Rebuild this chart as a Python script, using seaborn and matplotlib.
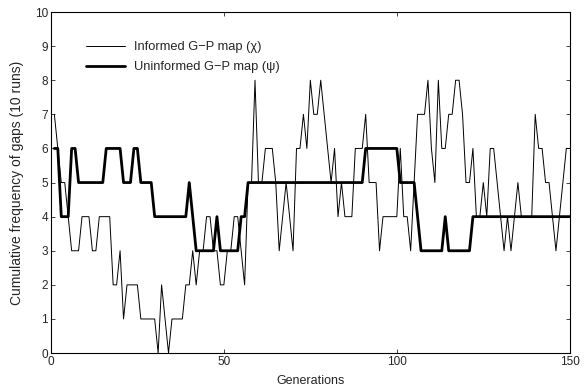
import numpy as np
import pandas as pd
import seaborn as sns
import matplotlib.pyplot as plt

# --- data ---
generations = list(range(1, 151))

informed = [
    7, 6, 5, 5, 4, 3, 3, 3, 4, 4,
    4, 3, 3, 4, 4, 4, 4, 2, 2, 3,
    1, 2, 2, 2, 2, 1, 1, 1, 1, 1,
    0, 2, 1, 0, 1, 1, 1, 1, 2, 2,
    3, 2, 3, 3, 4, 4, 3, 3, 2, 2,
    3, 3, 4, 4, 3, 2, 5, 5, 8, 5,
    5, 6, 6, 6, 5, 3, 4, 5, 4, 3,
    6, 6, 7, 6, 8, 7, 7, 8, 7, 6,
    5, 6, 4, 5, 4, 4, 4, 6, 6, 6,
    7, 5, 5, 5, 3, 4, 4, 4, 4, 4,
    6, 4, 4, 3, 5, 7, 7, 7, 8, 6,
    5, 8, 6, 6, 7, 7, 8, 8, 7, 5,
    5, 6, 4, 4, 5, 4, 6, 6, 5, 4,
    3, 4, 3, 4, 5, 4, 4, 4, 4, 7,
    6, 6, 5, 5, 4, 3, 4, 5, 6, 6,
]

uninformed = [
    6, 6, 4, 4, 4, 6, 6, 5, 5, 5,
    5, 5, 5, 5, 5, 6, 6, 6, 6, 6,
    5, 5, 5, 6, 6, 5, 5, 5, 5, 4,
    4, 4, 4, 4, 4, 4, 4, 4, 4, 5,
    4, 3, 3, 3, 3, 3, 3, 4, 3, 3,
    3, 3, 3, 3, 4, 4, 5, 5, 5, 5,
    5, 5, 5, 5, 5, 5, 5, 5, 5, 5,
    5, 5, 5, 5, 5, 5, 5, 5, 5, 5,
    5, 5, 5, 5, 5, 5, 5, 5, 5, 5,
    6, 6, 6, 6, 6, 6, 6, 6, 6, 6,
    5, 5, 5, 5, 5, 4, 3, 3, 3, 3,
    3, 3, 3, 4, 3, 3, 3, 3, 3, 3,
    3, 4, 4, 4, 4, 4, 4, 4, 4, 4,
    4, 4, 4, 4, 4, 4, 4, 4, 4, 4,
    4, 4, 4, 4, 4, 4, 4, 4, 4, 4,
]

labels = ['Informed G\u2212P map (\u03c7)', 'Uninformed G\u2212P map (\u03c8)']

df = pd.DataFrame({'gen': generations, 'informed': informed, 'uninformed': uninformed})

sns.set_style('white')
plt.rcParams['font.family'] = ['Liberation Sans', 'DejaVu Sans']

fig = plt.figure(figsize=(5.85, 3.88), dpi=100)
ax = fig.add_axes([0.087, 0.090, 0.887, 0.879])

sns.lineplot(data=df, x='gen', y='informed', ax=ax, color='black', linewidth=0.7, label=labels[0])
sns.lineplot(data=df, x='gen', y='uninformed', ax=ax, color='black', linewidth=2.0, label=labels[1])

ax.set_xlim(0, 150)
ax.set_ylim(0, 10)
ax.set_xticks([0, 50, 100, 150])
ax.set_yticks(range(0, 11))
ax.tick_params(direction='in', length=3, width=0.6, labelsize=8.5, top=True, right=True,
               bottom=True, left=True, pad=2)
for s in ax.spines.values():
    s.set_color('black')
    s.set_linewidth(0.8)

ax.set_xlabel('Generations', fontsize=9, labelpad=5)
ax.set_ylabel('Cumulative frequency of gaps (10 runs)', fontsize=10, labelpad=8)

ax.legend(loc='upper left', bbox_to_anchor=(0.045, 0.948), frameon=False, fontsize=9.3,
          handlelength=3.0, labelspacing=0.6, handletextpad=0.7)

fig.savefig('out.png', dpi=100)
